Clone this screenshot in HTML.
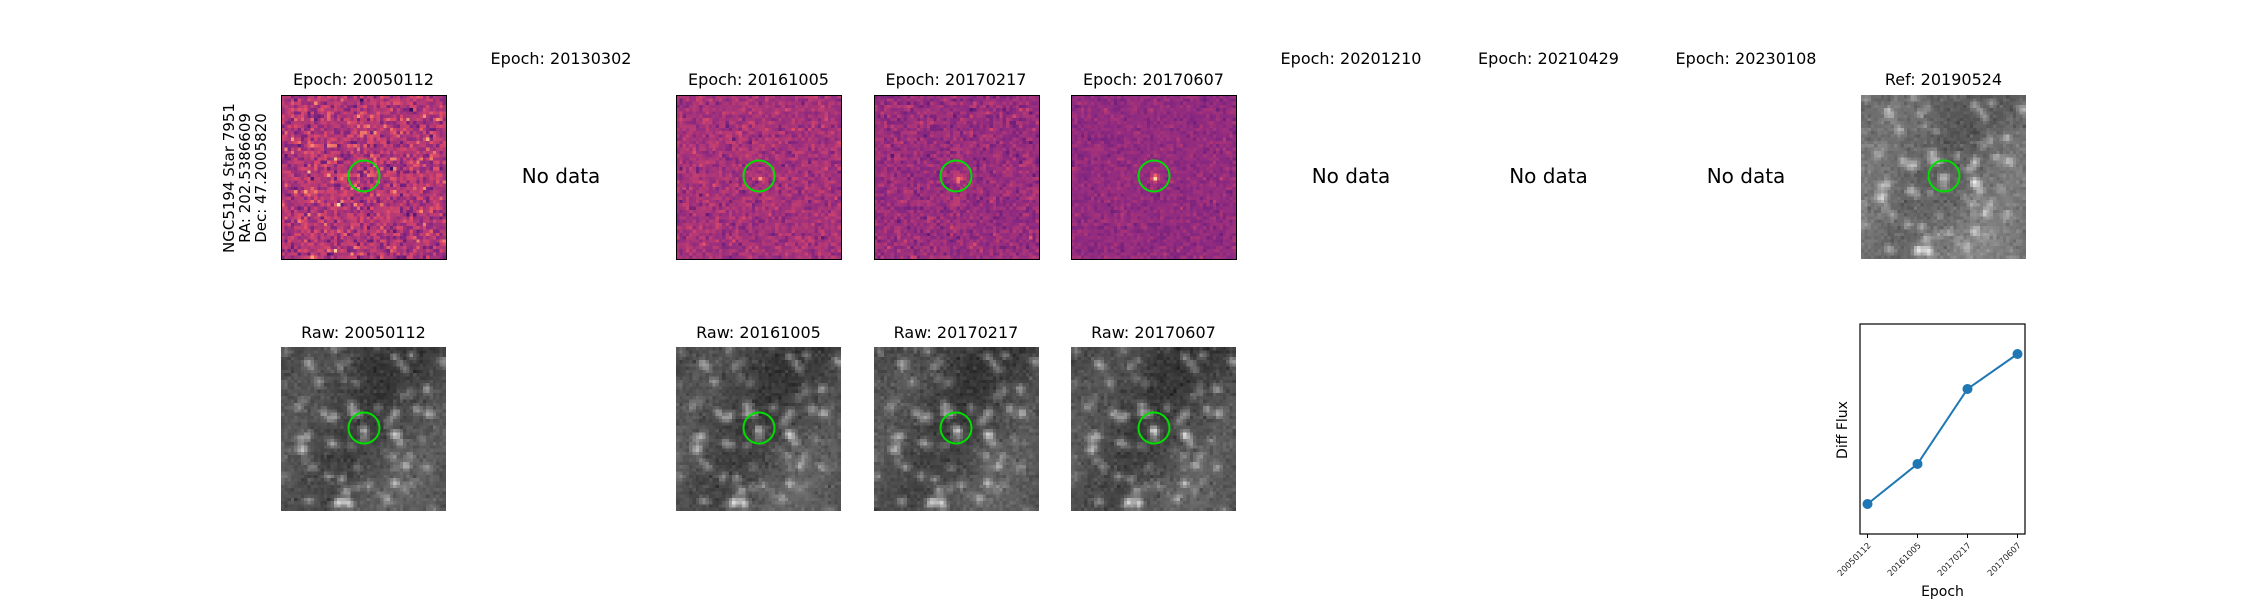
<!DOCTYPE html>
<html><head><meta charset="utf-8">
<style>
html,body{margin:0;padding:0;background:#fff;}
#fig{position:relative;width:2250px;height:600px;overflow:hidden;font-family:"DejaVu Sans","Liberation Sans",sans-serif;color:#000;}
.t{position:absolute;font-size:16px;white-space:nowrap;transform:translateX(-50%);line-height:1;}
.nd{position:absolute;font-size:20px;white-space:nowrap;transform:translate(-50%,-50%);line-height:1;}
canvas{position:absolute;image-rendering:pixelated;}
.frame{position:absolute;border:1.3px solid #000;box-sizing:border-box;pointer-events:none;}
.circ{position:absolute;width:33px;height:33px;border:2px solid #00e000;border-radius:50%;box-sizing:border-box;transform:translate(-50%,-50%);}
</style></head>
<body>
<div id="fig">
  <div style="position:absolute;left:245px;top:178px;transform:translate(-50%,-50%) rotate(-90deg);font-size:15px;line-height:16px;text-align:center;white-space:nowrap;">NGC5194 Star 7951<br>RA: 202.5386609<br>Dec: 47.2005820</div>
</div>
<svg id="lc" width="2250" height="600" style="position:absolute;left:0;top:0;font-family:'DejaVu Sans',sans-serif;"></svg>
<script>
const epochs=["20050112","20161005","20170217","20170607"];
const diffFlux=[0.0,0.267,0.767,1.0];
const columns=["20050112","20130302","20161005","20170217","20170607","20201210","20210429","20230108"];
const hasData=[true,false,true,true,true,false,false,false];

const fig=document.getElementById('fig');
let seed=12345;function rnd(){seed=(seed*1664525+1013904223)>>>0;return seed/4294967296;}
function gauss(){let u=rnd()||1e-9,v=rnd();return Math.sqrt(-2*Math.log(u))*Math.cos(2*Math.PI*v);}
const magStops=[[0,[0,0,4]],[0.25,[59,15,112]],[0.5,[140,41,129]],[0.75,[222,73,104]],[0.875,[254,159,109]],[1,[252,253,191]]];
function magma(t){t=Math.max(0,Math.min(1,t));for(let i=1;i<magStops.length;i++){if(t<=magStops[i][0]){const a=magStops[i-1],b=magStops[i],f=(t-a[0])/(b[0]-a[0]);return a[1].map((c,k)=>Math.round(c+(b[1][k]-c)*f));}}return magStops[5][1];}
const N=50;
const stars=[];for(let i=0;i<80;i++)stars.push([rnd()*N,rnd()*N,0.1+rnd()*0.35]);
stars.push([25,25,0.3]);
const field=[];for(let y=0;y<N;y++){field.push([]);for(let x=0;x<N;x++){let v=0.08*Math.sin(x*0.13+y*0.07)+0.12*(y/N);for(const s of stars){const d=(x-s[0])**2+(y-s[1])**2;v+=s[2]*Math.exp(-d/2.0);}field[y].push(v);}}
function addCanvas(x,y,w,h,name){const c=document.createElement('canvas');c.width=N;c.height=N;c.style.left=x+'px';c.style.top=y+'px';c.style.width=w+'px';c.style.height=h+'px';


fig.appendChild(c);return c;}
function addCircle(cx,cy){const d=document.createElement('div');d.className='circ';d.style.left=cx+'px';d.style.top=cy+'px';


fig.appendChild(d);}
function addText(cls,x,y,txt,name){const d=document.createElement('div');d.className=cls;d.style.left=x+'px';d.style.top=y+'px';d.textContent=txt;


fig.appendChild(d);}
function drawDiff(c,mean,noise,bright){const ctx=c.getContext('2d');const im=ctx.createImageData(N,N);for(let y=0;y<N;y++)for(let x=0;x<N;x++){let v=mean+noise*gauss();const d=(x-25)**2+(y-25)**2;v+=bright*Math.exp(-d/1.3);const col=magma(v);const i=(y*N+x)*4;im.data[i]=col[0];im.data[i+1]=col[1];im.data[i+2]=col[2];im.data[i+3]=255;}ctx.putImageData(im,0,0);}
function drawGray(c,base,gain,extra){const ctx=c.getContext('2d');const im=ctx.createImageData(N,N);for(let y=0;y<N;y++)for(let x=0;x<N;x++){let v=base+gain*field[y][x]+0.03*gauss();const d=(x-25)**2+(y-25)**2;v+=extra*Math.exp(-d/1.5);const g=Math.round(255*Math.max(0,Math.min(1,v)));const i=(y*N+x)*4;im.data[i]=g;im.data[i+1]=g;im.data[i+2]=g;im.data[i+3]=255;}ctx.putImageData(im,0,0);}

const colLeft=k=>281+197.5*k;
columns.forEach((ep,k)=>{const L=colLeft(k),cx=L+82.5;
  if(hasData[k]){
    addText('t',cx,72,'Epoch: '+ep,'epoch-title-'+ep);
    const c=addCanvas(L,95,165,164,'diff-image-'+ep);
    const mean=k===0?0.62:(k===2?0.58:(k===3?0.54:0.52));
    const noise=k===0?0.1:(k===2?0.06:(k===3?0.06:0.04));
    const br=k===0?0:(k===2?0.12:(k===3?0.3:0.45));
    drawDiff(c,mean,noise,br);
    const f=document.createElement('div');f.className='frame';f.style.left=L+'px';f.style.top='95px';f.style.width='166px';f.style.height='165px';
    
    
    fig.appendChild(f);
    addCircle(cx,176);
    addText('t',cx,325,'Raw: '+ep,'raw-title-'+ep);
    const r=addCanvas(L,347,165,164,'raw-image-'+ep);
    drawGray(r,0.25,0.75,k===4?0.3:(k===3?0.2:0.08));
    addCircle(cx,428);
  } else {
    addText('t',cx,51,'Epoch: '+ep,'epoch-title-'+ep);
    addText('nd',cx,176,'No data','no-data-label-'+ep);
  }
});
const RL=colLeft(8),RC=RL+82.5;
addText('t',RC,72,'Ref: 20190524','ref-title');
const rc=addCanvas(RL,95,165,164,'ref-image');drawGray(rc,0.38,0.7,0.05);
addCircle(RC,176);

const svg=document.getElementById('lc');const NS='http://www.w3.org/2000/svg';
const ax={l:1860,r:2025,t:324,b:534};
function el(tag,attrs,name,txt){const e=document.createElementNS(NS,tag);for(const k in attrs)e.setAttribute(k,attrs[k]);


if(txt!==undefined)e.textContent=txt;svg.appendChild(e);return e;}
const n=epochs.length;const xpad=0.05*(n-1);
const xS=i=>ax.l+(i+xpad)/((n-1)+2*xpad)*(ax.r-ax.l);
const ymin=Math.min(...diffFlux),ymax=Math.max(...diffFlux),yp=0.2*(ymax-ymin);
const yS=v=>ax.b-(v-(ymin-yp))/((ymax-ymin)+2*yp)*(ax.b-ax.t);
el('rect',{x:ax.l,y:ax.t,width:ax.r-ax.l,height:ax.b-ax.t,fill:'none',stroke:'#000','stroke-width':1.2},'plot-frame');
el('polyline',{points:diffFlux.map((v,i)=>xS(i)+','+yS(v)).join(' '),fill:'none',stroke:'#1f77b4','stroke-width':2},'flux-line');
diffFlux.forEach((v,i)=>{el('circle',{cx:xS(i),cy:yS(v),r:5,fill:'#1f77b4'},'flux-point-'+epochs[i]);});
epochs.forEach((e,i)=>{const x=xS(i);
  el('line',{x1:x,y1:ax.b,x2:x,y2:ax.b+4,stroke:'#000','stroke-width':1},'x-tick');
  el('text',{x:x+4,y:ax.b+12,'font-size':8.5,'text-anchor':'end',transform:`rotate(-45 ${x+4} ${ax.b+12})`,fill:'#222'},'x-tick-label',e);
});
el('text',{x:(ax.l+ax.r)/2,y:596,'font-size':14,'text-anchor':'middle'},'x-axis-title','Epoch');
el('text',{x:1847,y:430,'font-size':14,'text-anchor':'middle',transform:'rotate(-90 1847 430)'},'y-axis-title','Diff Flux');
</script>
</body></html>
